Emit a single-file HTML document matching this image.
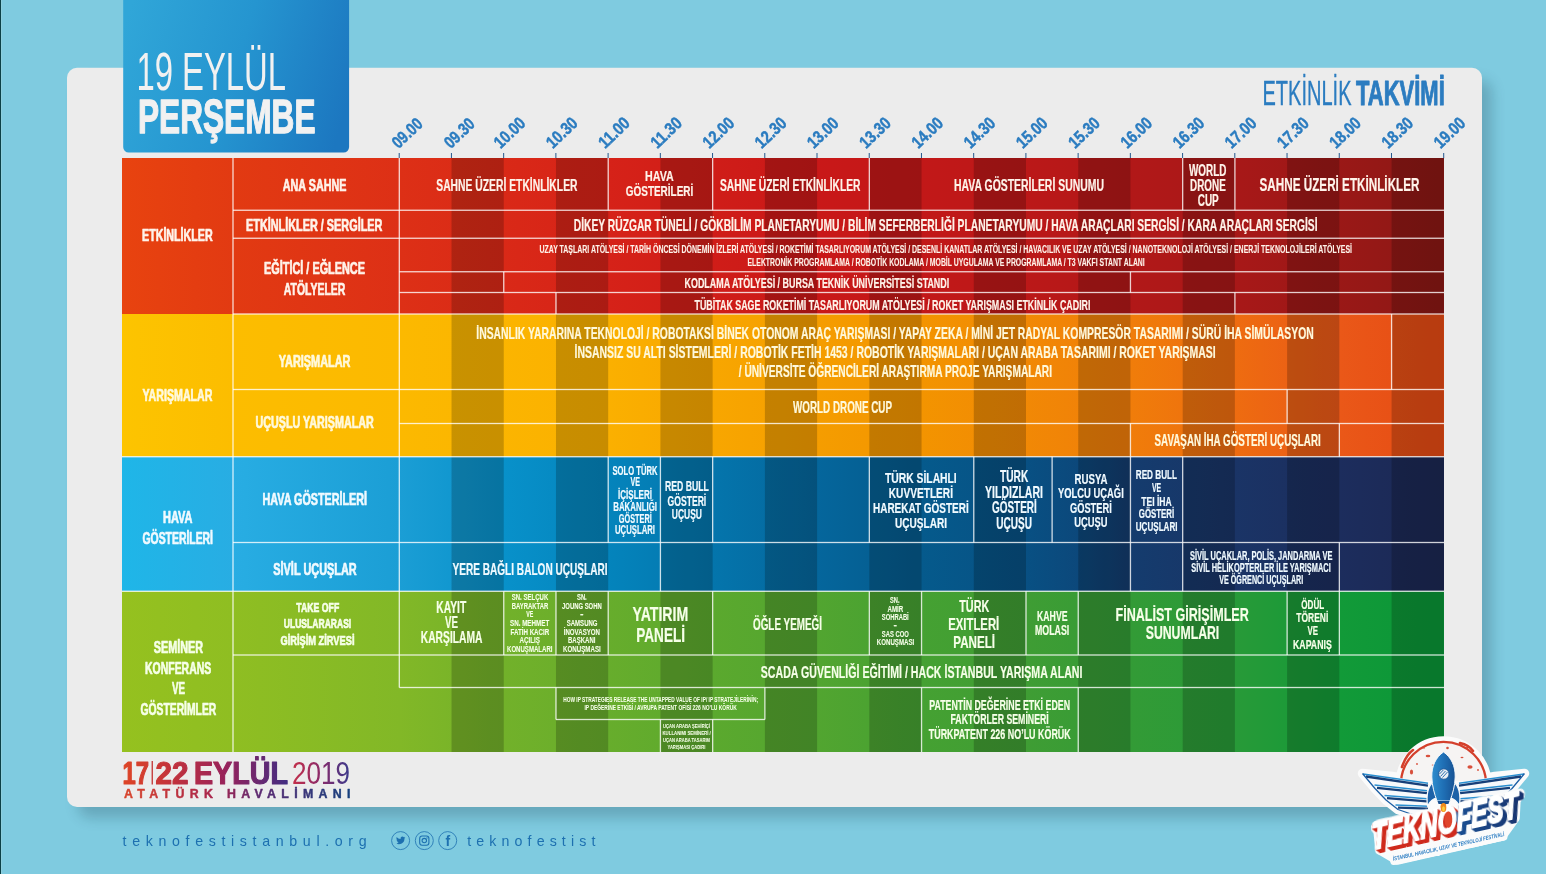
<!DOCTYPE html>
<html lang="tr">
<head>
<meta charset="utf-8">
<title>Etkinlik Takvimi - 19 Eylül Perşembe</title>
<style>
html,body{margin:0;padding:0;background:#7fcbe0;}
body{width:1546px;height:874px;overflow:hidden;}
svg{display:block;font-family:"Liberation Sans",sans-serif;}
text{white-space:pre;}
</style>
</head>
<body>
<svg width="1546" height="874" viewBox="0 0 1546 874">
<defs>
<linearGradient id="gr" gradientUnits="userSpaceOnUse" x1="122" y1="0" x2="1444" y2="0"><stop offset="0.0000" stop-color="#e8430f"/><stop offset="0.0840" stop-color="#e23a12"/><stop offset="0.2099" stop-color="#dd3016"/><stop offset="0.3676" stop-color="#d62218"/><stop offset="0.5257" stop-color="#c91818"/><stop offset="0.6838" stop-color="#bb1818"/><stop offset="0.8419" stop-color="#a81818"/><stop offset="1.0000" stop-color="#8c1815"/></linearGradient>
<linearGradient id="gy" gradientUnits="userSpaceOnUse" x1="122" y1="0" x2="1444" y2="0"><stop offset="0.0000" stop-color="#fdc400"/><stop offset="0.0840" stop-color="#fcbd00"/><stop offset="0.2099" stop-color="#fcb900"/><stop offset="0.3676" stop-color="#fbb000"/><stop offset="0.5257" stop-color="#f59d00"/><stop offset="0.6044" stop-color="#f39400"/><stop offset="0.7625" stop-color="#f07d0a"/><stop offset="0.8419" stop-color="#ee6c10"/><stop offset="0.9206" stop-color="#ea5818"/><stop offset="1.0000" stop-color="#e64a14"/></linearGradient>
<linearGradient id="gb" gradientUnits="userSpaceOnUse" x1="122" y1="0" x2="1444" y2="0"><stop offset="0.0000" stop-color="#1fb6e8"/><stop offset="0.0840" stop-color="#28ade3"/><stop offset="0.2099" stop-color="#1b9ed5"/><stop offset="0.2882" stop-color="#0891ca"/><stop offset="0.3676" stop-color="#0484bc"/><stop offset="0.4470" stop-color="#0475ac"/><stop offset="0.5257" stop-color="#05669c"/><stop offset="0.6044" stop-color="#055a8c"/><stop offset="0.6838" stop-color="#085083"/><stop offset="0.7231" stop-color="#0c487b"/><stop offset="0.7625" stop-color="#143c6e"/><stop offset="0.8419" stop-color="#1a3466"/><stop offset="0.9206" stop-color="#1c2d5d"/><stop offset="1.0000" stop-color="#1c2853"/></linearGradient>
<linearGradient id="gg" gradientUnits="userSpaceOnUse" x1="122" y1="0" x2="1444" y2="0"><stop offset="0.0000" stop-color="#95c11f"/><stop offset="0.0840" stop-color="#8fbe22"/><stop offset="0.2099" stop-color="#82b827"/><stop offset="0.2882" stop-color="#72b12a"/><stop offset="0.3676" stop-color="#67ad2c"/><stop offset="0.4470" stop-color="#5ba92e"/><stop offset="0.5257" stop-color="#52a530"/><stop offset="0.6044" stop-color="#45a132"/><stop offset="0.6838" stop-color="#3f9d34"/><stop offset="0.7625" stop-color="#339b36"/><stop offset="0.8419" stop-color="#289a38"/><stop offset="0.9206" stop-color="#129a38"/><stop offset="1.0000" stop-color="#0a9638"/></linearGradient>
<filter id="sh" x="-5%" y="-8%" width="110%" height="116%"><feGaussianBlur stdDeviation="7"/></filter>
<linearGradient id="gt" gradientUnits="userSpaceOnUse" x1="123" y1="30" x2="349" y2="100"><stop offset="0" stop-color="#30a6d8"/><stop offset="0.5" stop-color="#2595d0"/><stop offset="1" stop-color="#1c77c0"/></linearGradient>
<linearGradient id="gd1" gradientUnits="userSpaceOnUse" x1="123" y1="0" x2="287" y2="0"><stop offset="0" stop-color="#de4526"/><stop offset="0.3" stop-color="#c2323c"/><stop offset="0.62" stop-color="#98225a"/><stop offset="1" stop-color="#432d82"/></linearGradient>
<linearGradient id="gd2" gradientUnits="userSpaceOnUse" x1="292" y1="0" x2="350" y2="0"><stop offset="0" stop-color="#c5304a"/><stop offset="0.5" stop-color="#8a2a6a"/><stop offset="1" stop-color="#3a3a8c"/></linearGradient>
<linearGradient id="gd3" gradientUnits="userSpaceOnUse" x1="124" y1="0" x2="350" y2="0"><stop offset="0" stop-color="#d8452c"/><stop offset="0.4" stop-color="#a8244c"/><stop offset="0.6" stop-color="#5c2a72"/><stop offset="1" stop-color="#16407e"/></linearGradient>
</defs>
<rect x="0" y="0" width="1546" height="874" fill="#7fcbe0" />
<rect x="0" y="0" width="1" height="874" fill="#0b4046" />
<rect x="1" y="0" width="1" height="874" fill="#8fd0de" />
<rect x="78" y="80" width="1414" height="738" rx="12" fill="#0a2a3a" opacity="0.22" filter="url(#sh)"/>
<rect x="67" y="67.8" width="1415" height="739.1" rx="10" fill="#ececec"/>
<path d="M123.2 0H349.1V147a5.5 5.5 0 0 1 -5.5 5.5H128.7a5.5 5.5 0 0 1 -5.5 -5.5Z" fill="url(#gt)"/>
<text x="136.5" y="89.5" font-size="53.78" font-weight="normal" fill="#f1f1f1" textLength="149.5" lengthAdjust="spacingAndGlyphs" >19 EYLÜL</text>
<text x="138" y="133" font-size="47.97" font-weight="bold" fill="#f1f1f1" textLength="177.5" lengthAdjust="spacingAndGlyphs" stroke="#f1f1f1" stroke-width="1.3" stroke-linejoin="round" >PERŞEMBE</text>
<text x="1262.5" y="105" font-size="34.88" font-weight="normal" fill="#2b7cc0" textLength="89" lengthAdjust="spacingAndGlyphs" stroke="#2b7cc0" stroke-width="0.35" stroke-linejoin="round" >ETKİNLİK</text>
<text x="1356" y="105" font-size="34.88" font-weight="bold" fill="#2b7cc0" textLength="88.8" lengthAdjust="spacingAndGlyphs" stroke="#2b7cc0" stroke-width="1" stroke-linejoin="round" >TAKVİMİ</text>
<rect x="398.7" y="153" width="1" height="5.2" fill="#24588e"/>
<text transform="translate(398.5 149.2) rotate(-43.5)" x="0" y="0" font-size="17.15" font-weight="bold" fill="#2b7cc0" stroke="#2b7cc0" stroke-width="0.45" textLength="34.8" lengthAdjust="spacingAndGlyphs">09.00</text>
<rect x="450.925" y="153" width="1" height="5.2" fill="#24588e"/>
<text transform="translate(450.725 149.2) rotate(-43.5)" x="0" y="0" font-size="17.15" font-weight="bold" fill="#2b7cc0" stroke="#2b7cc0" stroke-width="0.45" textLength="34.8" lengthAdjust="spacingAndGlyphs">09.30</text>
<rect x="503.15" y="153" width="1" height="5.2" fill="#24588e"/>
<text transform="translate(500.45 149.2) rotate(-43.5)" x="0" y="0" font-size="17.15" font-weight="bold" fill="#2b7cc0" stroke="#2b7cc0" stroke-width="0.45" textLength="36" lengthAdjust="spacingAndGlyphs">10.00</text>
<rect x="555.375" y="153" width="1" height="5.2" fill="#24588e"/>
<text transform="translate(552.675 149.2) rotate(-43.5)" x="0" y="0" font-size="17.15" font-weight="bold" fill="#2b7cc0" stroke="#2b7cc0" stroke-width="0.45" textLength="36" lengthAdjust="spacingAndGlyphs">10.30</text>
<rect x="607.6" y="153" width="1" height="5.2" fill="#24588e"/>
<text transform="translate(604.9 149.2) rotate(-43.5)" x="0" y="0" font-size="17.15" font-weight="bold" fill="#2b7cc0" stroke="#2b7cc0" stroke-width="0.45" textLength="36" lengthAdjust="spacingAndGlyphs">11.00</text>
<rect x="659.825" y="153" width="1" height="5.2" fill="#24588e"/>
<text transform="translate(657.125 149.2) rotate(-43.5)" x="0" y="0" font-size="17.15" font-weight="bold" fill="#2b7cc0" stroke="#2b7cc0" stroke-width="0.45" textLength="36" lengthAdjust="spacingAndGlyphs">11.30</text>
<rect x="712.05" y="153" width="1" height="5.2" fill="#24588e"/>
<text transform="translate(709.35 149.2) rotate(-43.5)" x="0" y="0" font-size="17.15" font-weight="bold" fill="#2b7cc0" stroke="#2b7cc0" stroke-width="0.45" textLength="36" lengthAdjust="spacingAndGlyphs">12.00</text>
<rect x="764.275" y="153" width="1" height="5.2" fill="#24588e"/>
<text transform="translate(761.575 149.2) rotate(-43.5)" x="0" y="0" font-size="17.15" font-weight="bold" fill="#2b7cc0" stroke="#2b7cc0" stroke-width="0.45" textLength="36" lengthAdjust="spacingAndGlyphs">12.30</text>
<rect x="816.5" y="153" width="1" height="5.2" fill="#24588e"/>
<text transform="translate(813.8 149.2) rotate(-43.5)" x="0" y="0" font-size="17.15" font-weight="bold" fill="#2b7cc0" stroke="#2b7cc0" stroke-width="0.45" textLength="36" lengthAdjust="spacingAndGlyphs">13.00</text>
<rect x="868.725" y="153" width="1" height="5.2" fill="#24588e"/>
<text transform="translate(866.025 149.2) rotate(-43.5)" x="0" y="0" font-size="17.15" font-weight="bold" fill="#2b7cc0" stroke="#2b7cc0" stroke-width="0.45" textLength="36" lengthAdjust="spacingAndGlyphs">13.30</text>
<rect x="920.95" y="153" width="1" height="5.2" fill="#24588e"/>
<text transform="translate(918.25 149.2) rotate(-43.5)" x="0" y="0" font-size="17.15" font-weight="bold" fill="#2b7cc0" stroke="#2b7cc0" stroke-width="0.45" textLength="36" lengthAdjust="spacingAndGlyphs">14.00</text>
<rect x="973.175" y="153" width="1" height="5.2" fill="#24588e"/>
<text transform="translate(970.475 149.2) rotate(-43.5)" x="0" y="0" font-size="17.15" font-weight="bold" fill="#2b7cc0" stroke="#2b7cc0" stroke-width="0.45" textLength="36" lengthAdjust="spacingAndGlyphs">14.30</text>
<rect x="1025.4" y="153" width="1" height="5.2" fill="#24588e"/>
<text transform="translate(1022.7 149.2) rotate(-43.5)" x="0" y="0" font-size="17.15" font-weight="bold" fill="#2b7cc0" stroke="#2b7cc0" stroke-width="0.45" textLength="36" lengthAdjust="spacingAndGlyphs">15.00</text>
<rect x="1077.63" y="153" width="1" height="5.2" fill="#24588e"/>
<text transform="translate(1074.93 149.2) rotate(-43.5)" x="0" y="0" font-size="17.15" font-weight="bold" fill="#2b7cc0" stroke="#2b7cc0" stroke-width="0.45" textLength="36" lengthAdjust="spacingAndGlyphs">15.30</text>
<rect x="1129.85" y="153" width="1" height="5.2" fill="#24588e"/>
<text transform="translate(1127.15 149.2) rotate(-43.5)" x="0" y="0" font-size="17.15" font-weight="bold" fill="#2b7cc0" stroke="#2b7cc0" stroke-width="0.45" textLength="36" lengthAdjust="spacingAndGlyphs">16.00</text>
<rect x="1182.08" y="153" width="1" height="5.2" fill="#24588e"/>
<text transform="translate(1179.38 149.2) rotate(-43.5)" x="0" y="0" font-size="17.15" font-weight="bold" fill="#2b7cc0" stroke="#2b7cc0" stroke-width="0.45" textLength="36" lengthAdjust="spacingAndGlyphs">16.30</text>
<rect x="1234.3" y="153" width="1" height="5.2" fill="#24588e"/>
<text transform="translate(1231.6 149.2) rotate(-43.5)" x="0" y="0" font-size="17.15" font-weight="bold" fill="#2b7cc0" stroke="#2b7cc0" stroke-width="0.45" textLength="36" lengthAdjust="spacingAndGlyphs">17.00</text>
<rect x="1286.53" y="153" width="1" height="5.2" fill="#24588e"/>
<text transform="translate(1283.83 149.2) rotate(-43.5)" x="0" y="0" font-size="17.15" font-weight="bold" fill="#2b7cc0" stroke="#2b7cc0" stroke-width="0.45" textLength="36" lengthAdjust="spacingAndGlyphs">17.30</text>
<rect x="1338.75" y="153" width="1" height="5.2" fill="#24588e"/>
<text transform="translate(1336.05 149.2) rotate(-43.5)" x="0" y="0" font-size="17.15" font-weight="bold" fill="#2b7cc0" stroke="#2b7cc0" stroke-width="0.45" textLength="36" lengthAdjust="spacingAndGlyphs">18.00</text>
<rect x="1390.98" y="153" width="1" height="5.2" fill="#24588e"/>
<text transform="translate(1388.28 149.2) rotate(-43.5)" x="0" y="0" font-size="17.15" font-weight="bold" fill="#2b7cc0" stroke="#2b7cc0" stroke-width="0.45" textLength="36" lengthAdjust="spacingAndGlyphs">18.30</text>
<rect x="1443.2" y="153" width="1" height="5.2" fill="#24588e"/>
<text transform="translate(1440.5 149.2) rotate(-43.5)" x="0" y="0" font-size="17.15" font-weight="bold" fill="#2b7cc0" stroke="#2b7cc0" stroke-width="0.45" textLength="36" lengthAdjust="spacingAndGlyphs">19.00</text>
<rect x="122" y="158" width="1322" height="156" fill="url(#gr)" />
<rect x="122" y="314" width="1322" height="142.75" fill="url(#gy)" />
<rect x="122" y="456.75" width="1322" height="134.5" fill="url(#gb)" />
<rect x="122" y="591.25" width="1322" height="160.75" fill="url(#gg)" />
<rect x="451.525" y="158" width="52.225" height="594" fill="#000" opacity="0.2"/>
<rect x="555.975" y="158" width="52.225" height="594" fill="#000" opacity="0.2"/>
<rect x="660.425" y="158" width="52.225" height="594" fill="#000" opacity="0.2"/>
<rect x="764.875" y="158" width="52.225" height="594" fill="#000" opacity="0.2"/>
<rect x="869.325" y="158" width="52.225" height="594" fill="#000" opacity="0.2"/>
<rect x="973.775" y="158" width="52.225" height="594" fill="#000" opacity="0.2"/>
<rect x="1078.23" y="158" width="52.225" height="594" fill="#000" opacity="0.2"/>
<rect x="1182.67" y="158" width="52.225" height="594" fill="#000" opacity="0.2"/>
<rect x="1287.12" y="158" width="52.225" height="594" fill="#000" opacity="0.2"/>
<rect x="1391.58" y="158" width="52.225" height="594" fill="#000" opacity="0.2"/>
<rect x="233" y="209.6" width="1211" height="1.3" fill="rgba(255,255,255,0.8)"/>
<rect x="233" y="237.6" width="1211" height="1.3" fill="rgba(255,255,255,0.8)"/>
<rect x="399.3" y="271.1" width="1044.7" height="1.3" fill="rgba(255,255,255,0.8)"/>
<rect x="399.3" y="291.85" width="1044.7" height="1.3" fill="rgba(255,255,255,0.8)"/>
<rect x="233" y="313.35" width="1211" height="1.3" fill="rgba(255,255,255,0.8)"/>
<rect x="233" y="388.85" width="1211" height="1.3" fill="rgba(255,255,255,0.8)"/>
<rect x="399.3" y="422.85" width="1044.7" height="1.3" fill="rgba(255,255,255,0.8)"/>
<rect x="122" y="456.1" width="1322" height="1.3" fill="rgba(255,255,255,0.8)"/>
<rect x="233" y="541.85" width="1211" height="1.3" fill="rgba(255,255,255,0.8)"/>
<rect x="122" y="590.6" width="1322" height="1.3" fill="rgba(255,255,255,0.8)"/>
<rect x="233" y="654.35" width="1211" height="1.3" fill="rgba(255,255,255,0.8)"/>
<rect x="399.3" y="686.85" width="1044.7" height="1.3" fill="rgba(255,255,255,0.8)"/>
<rect x="555.975" y="718.85" width="208.9" height="1.3" fill="rgba(255,255,255,0.8)"/>
<rect x="232.35" y="158" width="1.3" height="594" fill="rgba(255,255,255,0.8)"/>
<rect x="398.65" y="158" width="1.3" height="529.5" fill="rgba(255,255,255,0.8)"/>
<rect x="607.55" y="158" width="1.3" height="52.25" fill="rgba(255,255,255,0.8)"/>
<rect x="712" y="158" width="1.3" height="52.25" fill="rgba(255,255,255,0.8)"/>
<rect x="868.675" y="158" width="1.3" height="52.25" fill="rgba(255,255,255,0.8)"/>
<rect x="1182.02" y="158" width="1.3" height="52.25" fill="rgba(255,255,255,0.8)"/>
<rect x="1234.25" y="158" width="1.3" height="52.25" fill="rgba(255,255,255,0.8)"/>
<rect x="503.1" y="271.75" width="1.3" height="20.75" fill="rgba(255,255,255,0.8)"/>
<rect x="1129.8" y="271.75" width="1.3" height="20.75" fill="rgba(255,255,255,0.8)"/>
<rect x="555.325" y="292.5" width="1.3" height="21.5" fill="rgba(255,255,255,0.8)"/>
<rect x="1234.25" y="292.5" width="1.3" height="21.5" fill="rgba(255,255,255,0.8)"/>
<rect x="1390.92" y="314" width="1.3" height="75.5" fill="rgba(255,255,255,0.8)"/>
<rect x="1286.47" y="389.5" width="1.3" height="34" fill="rgba(255,255,255,0.8)"/>
<rect x="1129.8" y="423.5" width="1.3" height="33.25" fill="rgba(255,255,255,0.8)"/>
<rect x="1338.7" y="423.5" width="1.3" height="33.25" fill="rgba(255,255,255,0.8)"/>
<rect x="607.55" y="456.75" width="1.3" height="85.75" fill="rgba(255,255,255,0.8)"/>
<rect x="659.775" y="456.75" width="1.3" height="85.75" fill="rgba(255,255,255,0.8)"/>
<rect x="712" y="456.75" width="1.3" height="85.75" fill="rgba(255,255,255,0.8)"/>
<rect x="868.675" y="456.75" width="1.3" height="85.75" fill="rgba(255,255,255,0.8)"/>
<rect x="973.125" y="456.75" width="1.3" height="85.75" fill="rgba(255,255,255,0.8)"/>
<rect x="1051.46" y="456.75" width="1.3" height="85.75" fill="rgba(255,255,255,0.8)"/>
<rect x="1129.8" y="456.75" width="1.3" height="85.75" fill="rgba(255,255,255,0.8)"/>
<rect x="1182.02" y="456.75" width="1.3" height="85.75" fill="rgba(255,255,255,0.8)"/>
<rect x="659.775" y="542.5" width="1.3" height="48.75" fill="rgba(255,255,255,0.8)"/>
<rect x="1129.8" y="542.5" width="1.3" height="48.75" fill="rgba(255,255,255,0.8)"/>
<rect x="1182.02" y="542.5" width="1.3" height="48.75" fill="rgba(255,255,255,0.8)"/>
<rect x="1338.7" y="542.5" width="1.3" height="48.75" fill="rgba(255,255,255,0.8)"/>
<rect x="503.1" y="591.25" width="1.3" height="63.75" fill="rgba(255,255,255,0.8)"/>
<rect x="555.325" y="591.25" width="1.3" height="63.75" fill="rgba(255,255,255,0.8)"/>
<rect x="607.55" y="591.25" width="1.3" height="63.75" fill="rgba(255,255,255,0.8)"/>
<rect x="712" y="591.25" width="1.3" height="63.75" fill="rgba(255,255,255,0.8)"/>
<rect x="868.675" y="591.25" width="1.3" height="63.75" fill="rgba(255,255,255,0.8)"/>
<rect x="920.9" y="591.25" width="1.3" height="63.75" fill="rgba(255,255,255,0.8)"/>
<rect x="1025.35" y="591.25" width="1.3" height="63.75" fill="rgba(255,255,255,0.8)"/>
<rect x="1077.58" y="591.25" width="1.3" height="63.75" fill="rgba(255,255,255,0.8)"/>
<rect x="1286.47" y="591.25" width="1.3" height="63.75" fill="rgba(255,255,255,0.8)"/>
<rect x="1338.7" y="591.25" width="1.3" height="63.75" fill="rgba(255,255,255,0.8)"/>
<rect x="555.325" y="687.5" width="1.3" height="32" fill="rgba(255,255,255,0.8)"/>
<rect x="764.225" y="687.5" width="1.3" height="32" fill="rgba(255,255,255,0.8)"/>
<rect x="659.775" y="719.5" width="1.3" height="32.5" fill="rgba(255,255,255,0.8)"/>
<rect x="712" y="719.5" width="1.3" height="32.5" fill="rgba(255,255,255,0.8)"/>
<rect x="920.9" y="687.5" width="1.3" height="64.5" fill="rgba(255,255,255,0.8)"/>
<rect x="1077.58" y="687.5" width="1.3" height="64.5" fill="rgba(255,255,255,0.8)"/>
<text x="142" y="240.7" font-size="15.99" font-weight="bold" fill="#fff3ea" textLength="70.7" lengthAdjust="spacingAndGlyphs" stroke="#fff3ea" stroke-width="0.7" stroke-linejoin="round" >ETKİNLİKLER</text>
<text x="142.5" y="401.25" font-size="15.63" font-weight="bold" fill="#fff9dc" textLength="70" lengthAdjust="spacingAndGlyphs" stroke="#fff9dc" stroke-width="0.7" stroke-linejoin="round" >YARIŞMALAR</text>
<text x="163" y="523.25" font-size="15.63" font-weight="bold" fill="#f0faff" textLength="29.5" lengthAdjust="spacingAndGlyphs" stroke="#f0faff" stroke-width="0.7" stroke-linejoin="round" >HAVA</text>
<text x="142.5" y="543.75" font-size="15.63" font-weight="bold" fill="#f0faff" textLength="70.5" lengthAdjust="spacingAndGlyphs" stroke="#f0faff" stroke-width="0.7" stroke-linejoin="round" >GÖSTERİLERİ</text>
<text x="153.75" y="653" font-size="15.63" font-weight="bold" fill="#f6ffe8" textLength="49.25" lengthAdjust="spacingAndGlyphs" stroke="#f6ffe8" stroke-width="0.7" stroke-linejoin="round" >SEMİNER</text>
<text x="145" y="673.75" font-size="15.63" font-weight="bold" fill="#f6ffe8" textLength="66.25" lengthAdjust="spacingAndGlyphs" stroke="#f6ffe8" stroke-width="0.7" stroke-linejoin="round" >KONFERANS</text>
<text x="172" y="694.25" font-size="15.63" font-weight="bold" fill="#f6ffe8" textLength="13" lengthAdjust="spacingAndGlyphs" stroke="#f6ffe8" stroke-width="0.7" stroke-linejoin="round" >VE</text>
<text x="140.5" y="715" font-size="15.63" font-weight="bold" fill="#f6ffe8" textLength="75.75" lengthAdjust="spacingAndGlyphs" stroke="#f6ffe8" stroke-width="0.7" stroke-linejoin="round" >GÖSTERİMLER</text>
<text x="282.8" y="191.1" font-size="15.99" font-weight="bold" fill="#fff3ea" textLength="63.6" lengthAdjust="spacingAndGlyphs" stroke="#fff3ea" stroke-width="0.7" stroke-linejoin="round" >ANA SAHNE</text>
<text x="246" y="231" font-size="15.99" font-weight="bold" fill="#fff3ea" textLength="136.4" lengthAdjust="spacingAndGlyphs" stroke="#fff3ea" stroke-width="0.7" stroke-linejoin="round" >ETKİNLİKLER / SERGİLER</text>
<text x="264" y="273.8" font-size="15.99" font-weight="bold" fill="#fff3ea" textLength="101" lengthAdjust="spacingAndGlyphs" stroke="#fff3ea" stroke-width="0.7" stroke-linejoin="round" >EĞİTİCİ / EĞLENCE</text>
<text x="283.7" y="295.2" font-size="15.99" font-weight="bold" fill="#fff3ea" textLength="61.7" lengthAdjust="spacingAndGlyphs" stroke="#fff3ea" stroke-width="0.7" stroke-linejoin="round" >ATÖLYELER</text>
<text x="278.75" y="367" font-size="15.63" font-weight="bold" fill="#fff9dc" textLength="71.75" lengthAdjust="spacingAndGlyphs" stroke="#fff9dc" stroke-width="0.7" stroke-linejoin="round" >YARIŞMALAR</text>
<text x="255.5" y="428.25" font-size="15.63" font-weight="bold" fill="#fff9dc" textLength="118.25" lengthAdjust="spacingAndGlyphs" stroke="#fff9dc" stroke-width="0.7" stroke-linejoin="round" >UÇUŞLU YARIŞMALAR</text>
<text x="262.5" y="505" font-size="15.99" font-weight="bold" fill="#f0faff" textLength="104.5" lengthAdjust="spacingAndGlyphs" stroke="#f0faff" stroke-width="0.7" stroke-linejoin="round" >HAVA GÖSTERİLERİ</text>
<text x="273.25" y="575" font-size="15.63" font-weight="bold" fill="#f0faff" textLength="83.5" lengthAdjust="spacingAndGlyphs" stroke="#f0faff" stroke-width="0.7" stroke-linejoin="round" >SİVİL UÇUŞLAR</text>
<text x="296.25" y="612" font-size="13.08" font-weight="bold" fill="#f6ffe8" textLength="43" lengthAdjust="spacingAndGlyphs" stroke="#f6ffe8" stroke-width="0.7" stroke-linejoin="round" >TAKE OFF</text>
<text x="283.75" y="628.25" font-size="13.08" font-weight="bold" fill="#f6ffe8" textLength="67.5" lengthAdjust="spacingAndGlyphs" stroke="#f6ffe8" stroke-width="0.7" stroke-linejoin="round" >ULUSLARARASI</text>
<text x="280.5" y="645" font-size="13.08" font-weight="bold" fill="#f6ffe8" textLength="74" lengthAdjust="spacingAndGlyphs" stroke="#f6ffe8" stroke-width="0.7" stroke-linejoin="round" >GİRİŞİM ZİRVESİ</text>
<text x="436.25" y="191.25" font-size="16.35" font-weight="bold" fill="#fff3ea" textLength="141.25" lengthAdjust="spacingAndGlyphs" stroke="#fff3ea" stroke-width="0.22" stroke-linejoin="round" >SAHNE ÜZERİ ETKİNLİKLER</text>
<text x="645" y="181.25" font-size="15.26" font-weight="bold" fill="#fff3ea" textLength="28.75" lengthAdjust="spacingAndGlyphs" stroke="#fff3ea" stroke-width="0.22" stroke-linejoin="round" >HAVA</text>
<text x="625.75" y="196.25" font-size="15.26" font-weight="bold" fill="#fff3ea" textLength="67.5" lengthAdjust="spacingAndGlyphs" stroke="#fff3ea" stroke-width="0.22" stroke-linejoin="round" >GÖSTERİLERİ</text>
<text x="720" y="191.25" font-size="16.35" font-weight="bold" fill="#fff3ea" textLength="140.5" lengthAdjust="spacingAndGlyphs" stroke="#fff3ea" stroke-width="0.22" stroke-linejoin="round" >SAHNE ÜZERİ ETKİNLİKLER</text>
<text x="954" y="191.25" font-size="16.35" font-weight="bold" fill="#fff3ea" textLength="150" lengthAdjust="spacingAndGlyphs" stroke="#fff3ea" stroke-width="0.22" stroke-linejoin="round" >HAVA GÖSTERİLERİ SUNUMU</text>
<text x="1189" y="176.25" font-size="16.35" font-weight="bold" fill="#fff3ea" textLength="37.5" lengthAdjust="spacingAndGlyphs" stroke="#fff3ea" stroke-width="0.22" stroke-linejoin="round" >WORLD</text>
<text x="1190" y="191.25" font-size="16.35" font-weight="bold" fill="#fff3ea" textLength="35.75" lengthAdjust="spacingAndGlyphs" stroke="#fff3ea" stroke-width="0.22" stroke-linejoin="round" >DRONE</text>
<text x="1197.75" y="206.25" font-size="16.35" font-weight="bold" fill="#fff3ea" textLength="21" lengthAdjust="spacingAndGlyphs" stroke="#fff3ea" stroke-width="0.22" stroke-linejoin="round" >CUP</text>
<text x="1259.5" y="191.25" font-size="17.44" font-weight="bold" fill="#fff3ea" textLength="160" lengthAdjust="spacingAndGlyphs" stroke="#fff3ea" stroke-width="0.22" stroke-linejoin="round" >SAHNE ÜZERİ ETKİNLİKLER</text>
<text x="573.75" y="231.25" font-size="15.63" font-weight="bold" fill="#fff3ea" textLength="743.75" lengthAdjust="spacingAndGlyphs" stroke="#fff3ea" stroke-width="0.22" stroke-linejoin="round" >DİKEY RÜZGAR TÜNELİ / GÖKBİLİM PLANETARYUMU / BİLİM SEFERBERLİĞİ PLANETARYUMU / HAVA ARAÇLARI SERGİSİ / KARA ARAÇLARI SERGİSİ</text>
<text x="539.5" y="253.25" font-size="10.90" font-weight="bold" fill="#fff3ea" textLength="812.5" lengthAdjust="spacingAndGlyphs" stroke="#fff3ea" stroke-width="0.12" stroke-linejoin="round" >UZAY TAŞLARI ATÖLYESİ / TARİH ÖNCESİ DÖNEMİN İZLERİ ATÖLYESİ / ROKETİMİ TASARLIYORUM ATÖLYESİ / DESENLİ KANATLAR ATÖLYESİ / HAVACILIK VE UZAY ATÖLYESİ / NANOTEKNOLOJİ ATÖLYESİ / ENERJİ TEKNOLOJİLERİ ATÖLYESİ</text>
<text x="747.5" y="265.5" font-size="10.90" font-weight="bold" fill="#fff3ea" textLength="397.25" lengthAdjust="spacingAndGlyphs" stroke="#fff3ea" stroke-width="0.12" stroke-linejoin="round" >ELEKTRONİK PROGRAMLAMA / ROBOTİK KODLAMA / MOBİL UYGULAMA VE PROGRAMLAMA / T3 VAKFI STANT ALANI</text>
<text x="684.5" y="287.5" font-size="13.81" font-weight="bold" fill="#fff3ea" textLength="264.75" lengthAdjust="spacingAndGlyphs" stroke="#fff3ea" stroke-width="0.22" stroke-linejoin="round" >KODLAMA ATÖLYESİ / BURSA TEKNİK ÜNİVERSİTESİ STANDI</text>
<text x="694.5" y="309.5" font-size="13.81" font-weight="bold" fill="#fff3ea" textLength="396" lengthAdjust="spacingAndGlyphs" stroke="#fff3ea" stroke-width="0.22" stroke-linejoin="round" >TÜBİTAK SAGE ROKETİMİ TASARLIYORUM ATÖLYESİ / ROKET YARIŞMASI ETKİNLİK ÇADIRI</text>
<text x="476.25" y="338.75" font-size="15.63" font-weight="bold" fill="#fff9dc" textLength="837.5" lengthAdjust="spacingAndGlyphs" stroke="#fff9dc" stroke-width="0.22" stroke-linejoin="round" >İNSANLIK YARARINA TEKNOLOJİ / ROBOTAKSİ BİNEK OTONOM ARAÇ YARIŞMASI / YAPAY ZEKA / MİNİ JET RADYAL KOMPRESÖR TASARIMI / SÜRÜ İHA SİMÜLASYON</text>
<text x="574.5" y="358" font-size="15.63" font-weight="bold" fill="#fff9dc" textLength="641.25" lengthAdjust="spacingAndGlyphs" stroke="#fff9dc" stroke-width="0.22" stroke-linejoin="round" >İNSANSIZ SU ALTI SİSTEMLERİ / ROBOTİK FETİH 1453 / ROBOTİK YARIŞMALARI / UÇAN ARABA TASARIMI / ROKET YARIŞMASI</text>
<text x="738.75" y="377" font-size="15.63" font-weight="bold" fill="#fff9dc" textLength="313.25" lengthAdjust="spacingAndGlyphs" stroke="#fff9dc" stroke-width="0.22" stroke-linejoin="round" >/ ÜNİVERSİTE ÖĞRENCİLERİ ARAŞTIRMA PROJE YARIŞMALARI</text>
<text x="793" y="413" font-size="15.63" font-weight="bold" fill="#fff9dc" textLength="99" lengthAdjust="spacingAndGlyphs" stroke="#fff9dc" stroke-width="0.22" stroke-linejoin="round" >WORLD DRONE CUP</text>
<text x="1154.5" y="445.75" font-size="15.63" font-weight="bold" fill="#fff9dc" textLength="166.25" lengthAdjust="spacingAndGlyphs" stroke="#fff9dc" stroke-width="0.22" stroke-linejoin="round" >SAVAŞAN İHA GÖSTERİ UÇUŞLARI</text>
<text x="612.5" y="475" font-size="12.72" font-weight="bold" fill="#f0faff" textLength="45" lengthAdjust="spacingAndGlyphs" stroke="#f0faff" stroke-width="0.22" stroke-linejoin="round" >SOLO TÜRK</text>
<text x="630.5" y="486.25" font-size="12.72" font-weight="bold" fill="#f0faff" textLength="9.5" lengthAdjust="spacingAndGlyphs" stroke="#f0faff" stroke-width="0.22" stroke-linejoin="round" >VE</text>
<text x="618" y="498.75" font-size="12.72" font-weight="bold" fill="#f0faff" textLength="34" lengthAdjust="spacingAndGlyphs" stroke="#f0faff" stroke-width="0.22" stroke-linejoin="round" >İÇİŞLERİ</text>
<text x="613.25" y="510.5" font-size="12.72" font-weight="bold" fill="#f0faff" textLength="43.75" lengthAdjust="spacingAndGlyphs" stroke="#f0faff" stroke-width="0.22" stroke-linejoin="round" >BAKANLIĞI</text>
<text x="618.75" y="522.5" font-size="12.72" font-weight="bold" fill="#f0faff" textLength="33" lengthAdjust="spacingAndGlyphs" stroke="#f0faff" stroke-width="0.22" stroke-linejoin="round" >GÖSTERİ</text>
<text x="615" y="534.25" font-size="12.72" font-weight="bold" fill="#f0faff" textLength="40" lengthAdjust="spacingAndGlyphs" stroke="#f0faff" stroke-width="0.22" stroke-linejoin="round" >UÇUŞLARI</text>
<text x="665" y="491.25" font-size="14.17" font-weight="bold" fill="#f0faff" textLength="43.75" lengthAdjust="spacingAndGlyphs" stroke="#f0faff" stroke-width="0.22" stroke-linejoin="round" >RED BULL</text>
<text x="667.5" y="505.5" font-size="14.17" font-weight="bold" fill="#f0faff" textLength="38.75" lengthAdjust="spacingAndGlyphs" stroke="#f0faff" stroke-width="0.22" stroke-linejoin="round" >GÖSTERİ</text>
<text x="671.75" y="518.75" font-size="14.17" font-weight="bold" fill="#f0faff" textLength="30.25" lengthAdjust="spacingAndGlyphs" stroke="#f0faff" stroke-width="0.22" stroke-linejoin="round" >UÇUŞU</text>
<text x="452.5" y="575" font-size="15.63" font-weight="bold" fill="#f0faff" textLength="155" lengthAdjust="spacingAndGlyphs" stroke="#f0faff" stroke-width="0.22" stroke-linejoin="round" >YERE BAĞLI BALON UÇUŞLARI</text>
<text x="885" y="483" font-size="15.26" font-weight="bold" fill="#f0faff" textLength="71.75" lengthAdjust="spacingAndGlyphs" stroke="#f0faff" stroke-width="0.22" stroke-linejoin="round" >TÜRK SİLAHLI</text>
<text x="888.75" y="498" font-size="15.26" font-weight="bold" fill="#f0faff" textLength="64.25" lengthAdjust="spacingAndGlyphs" stroke="#f0faff" stroke-width="0.22" stroke-linejoin="round" >KUVVETLERİ</text>
<text x="873" y="513.25" font-size="15.26" font-weight="bold" fill="#f0faff" textLength="95.75" lengthAdjust="spacingAndGlyphs" stroke="#f0faff" stroke-width="0.22" stroke-linejoin="round" >HAREKAT GÖSTERİ</text>
<text x="895" y="528" font-size="15.26" font-weight="bold" fill="#f0faff" textLength="52" lengthAdjust="spacingAndGlyphs" stroke="#f0faff" stroke-width="0.22" stroke-linejoin="round" >UÇUŞLARI</text>
<text x="1000" y="482" font-size="15.63" font-weight="bold" fill="#f0faff" textLength="28.25" lengthAdjust="spacingAndGlyphs" stroke="#f0faff" stroke-width="0.22" stroke-linejoin="round" >TÜRK</text>
<text x="985" y="498" font-size="15.63" font-weight="bold" fill="#f0faff" textLength="58" lengthAdjust="spacingAndGlyphs" stroke="#f0faff" stroke-width="0.22" stroke-linejoin="round" >YILDIZLARI</text>
<text x="992" y="513.25" font-size="15.63" font-weight="bold" fill="#f0faff" textLength="44.75" lengthAdjust="spacingAndGlyphs" stroke="#f0faff" stroke-width="0.22" stroke-linejoin="round" >GÖSTERİ</text>
<text x="996.25" y="528.75" font-size="15.63" font-weight="bold" fill="#f0faff" textLength="35.75" lengthAdjust="spacingAndGlyphs" stroke="#f0faff" stroke-width="0.22" stroke-linejoin="round" >UÇUŞU</text>
<text x="1074.5" y="484.25" font-size="15.26" font-weight="bold" fill="#f0faff" textLength="33" lengthAdjust="spacingAndGlyphs" stroke="#f0faff" stroke-width="0.22" stroke-linejoin="round" >RUSYA</text>
<text x="1058" y="498" font-size="15.26" font-weight="bold" fill="#f0faff" textLength="65.75" lengthAdjust="spacingAndGlyphs" stroke="#f0faff" stroke-width="0.22" stroke-linejoin="round" >YOLCU UÇAĞI</text>
<text x="1070" y="512.5" font-size="15.26" font-weight="bold" fill="#f0faff" textLength="41.75" lengthAdjust="spacingAndGlyphs" stroke="#f0faff" stroke-width="0.22" stroke-linejoin="round" >GÖSTERİ</text>
<text x="1074.25" y="527" font-size="15.26" font-weight="bold" fill="#f0faff" textLength="33.25" lengthAdjust="spacingAndGlyphs" stroke="#f0faff" stroke-width="0.22" stroke-linejoin="round" >UÇUŞU</text>
<text x="1135.75" y="479.25" font-size="12.72" font-weight="bold" fill="#f0faff" textLength="41.25" lengthAdjust="spacingAndGlyphs" stroke="#f0faff" stroke-width="0.22" stroke-linejoin="round" >RED BULL</text>
<text x="1152" y="492" font-size="12.72" font-weight="bold" fill="#f0faff" textLength="9.25" lengthAdjust="spacingAndGlyphs" stroke="#f0faff" stroke-width="0.22" stroke-linejoin="round" >VE</text>
<text x="1141.25" y="505.5" font-size="12.72" font-weight="bold" fill="#f0faff" textLength="30.5" lengthAdjust="spacingAndGlyphs" stroke="#f0faff" stroke-width="0.22" stroke-linejoin="round" >TEI İHA</text>
<text x="1138.75" y="517.5" font-size="12.72" font-weight="bold" fill="#f0faff" textLength="35.5" lengthAdjust="spacingAndGlyphs" stroke="#f0faff" stroke-width="0.22" stroke-linejoin="round" >GÖSTERİ</text>
<text x="1135.75" y="530.5" font-size="12.72" font-weight="bold" fill="#f0faff" textLength="41.75" lengthAdjust="spacingAndGlyphs" stroke="#f0faff" stroke-width="0.22" stroke-linejoin="round" >UÇUŞLARI</text>
<text x="1190" y="559.5" font-size="11.99" font-weight="bold" fill="#f0faff" textLength="142.5" lengthAdjust="spacingAndGlyphs" stroke="#f0faff" stroke-width="0.22" stroke-linejoin="round" >SİVİL UÇAKLAR, POLİS, JANDARMA VE</text>
<text x="1191.25" y="571.75" font-size="11.99" font-weight="bold" fill="#f0faff" textLength="139.5" lengthAdjust="spacingAndGlyphs" stroke="#f0faff" stroke-width="0.22" stroke-linejoin="round" >SİVİL HELİKOPTERLER İLE YARIŞMACI</text>
<text x="1219.25" y="583.75" font-size="11.99" font-weight="bold" fill="#f0faff" textLength="84" lengthAdjust="spacingAndGlyphs" stroke="#f0faff" stroke-width="0.22" stroke-linejoin="round" >VE ÖĞRENCİ UÇUŞLARI</text>
<text x="436.25" y="613.25" font-size="15.63" font-weight="bold" fill="#f6ffe8" textLength="30" lengthAdjust="spacingAndGlyphs" stroke="#f6ffe8" stroke-width="0.22" stroke-linejoin="round" >KAYIT</text>
<text x="445" y="628.25" font-size="15.63" font-weight="bold" fill="#f6ffe8" textLength="13" lengthAdjust="spacingAndGlyphs" stroke="#f6ffe8" stroke-width="0.22" stroke-linejoin="round" >VE</text>
<text x="420.75" y="643.25" font-size="15.63" font-weight="bold" fill="#f6ffe8" textLength="61.75" lengthAdjust="spacingAndGlyphs" stroke="#f6ffe8" stroke-width="0.22" stroke-linejoin="round" >KARŞILAMA</text>
<text x="511.75" y="600.25" font-size="9.45" font-weight="bold" fill="#f6ffe8" textLength="36.5" lengthAdjust="spacingAndGlyphs" stroke="#f6ffe8" stroke-width="0.12" stroke-linejoin="round" >SN. SELÇUK</text>
<text x="511.75" y="608.5" font-size="9.45" font-weight="bold" fill="#f6ffe8" textLength="36.5" lengthAdjust="spacingAndGlyphs" stroke="#f6ffe8" stroke-width="0.12" stroke-linejoin="round" >BAYRAKTAR</text>
<text x="526.25" y="617" font-size="9.45" font-weight="bold" fill="#f6ffe8" textLength="7" lengthAdjust="spacingAndGlyphs" stroke="#f6ffe8" stroke-width="0.12" stroke-linejoin="round" >VE</text>
<text x="510" y="625.75" font-size="9.45" font-weight="bold" fill="#f6ffe8" textLength="39.25" lengthAdjust="spacingAndGlyphs" stroke="#f6ffe8" stroke-width="0.12" stroke-linejoin="round" >SN. MEHMET</text>
<text x="510.5" y="634.5" font-size="9.45" font-weight="bold" fill="#f6ffe8" textLength="38.75" lengthAdjust="spacingAndGlyphs" stroke="#f6ffe8" stroke-width="0.12" stroke-linejoin="round" >FATİH KACIR</text>
<text x="519.5" y="642.75" font-size="9.45" font-weight="bold" fill="#f6ffe8" textLength="20.5" lengthAdjust="spacingAndGlyphs" stroke="#f6ffe8" stroke-width="0.12" stroke-linejoin="round" >AÇILIŞ</text>
<text x="507" y="651.5" font-size="9.45" font-weight="bold" fill="#f6ffe8" textLength="45.5" lengthAdjust="spacingAndGlyphs" stroke="#f6ffe8" stroke-width="0.12" stroke-linejoin="round" >KONUŞMALARI</text>
<text x="577" y="600.25" font-size="9.45" font-weight="bold" fill="#f6ffe8" textLength="9.75" lengthAdjust="spacingAndGlyphs" stroke="#f6ffe8" stroke-width="0.12" stroke-linejoin="round" >SN.</text>
<text x="562" y="608.5" font-size="9.45" font-weight="bold" fill="#f6ffe8" textLength="39.75" lengthAdjust="spacingAndGlyphs" stroke="#f6ffe8" stroke-width="0.12" stroke-linejoin="round" >JOUNG SOHN</text>
<text x="580" y="617" font-size="9.45" font-weight="bold" fill="#f6ffe8" textLength="3.5" lengthAdjust="spacingAndGlyphs" stroke="#f6ffe8" stroke-width="0.12" stroke-linejoin="round" >-</text>
<text x="566.75" y="625.75" font-size="9.45" font-weight="bold" fill="#f6ffe8" textLength="30.75" lengthAdjust="spacingAndGlyphs" stroke="#f6ffe8" stroke-width="0.12" stroke-linejoin="round" >SAMSUNG</text>
<text x="563.75" y="634.5" font-size="9.45" font-weight="bold" fill="#f6ffe8" textLength="36.25" lengthAdjust="spacingAndGlyphs" stroke="#f6ffe8" stroke-width="0.12" stroke-linejoin="round" >İNOVASYON</text>
<text x="568" y="642.75" font-size="9.45" font-weight="bold" fill="#f6ffe8" textLength="27.5" lengthAdjust="spacingAndGlyphs" stroke="#f6ffe8" stroke-width="0.12" stroke-linejoin="round" >BAŞKANI</text>
<text x="563" y="651.5" font-size="9.45" font-weight="bold" fill="#f6ffe8" textLength="37.75" lengthAdjust="spacingAndGlyphs" stroke="#f6ffe8" stroke-width="0.12" stroke-linejoin="round" >KONUŞMASI</text>
<text x="632.5" y="621.15" font-size="19.62" font-weight="bold" fill="#f6ffe8" textLength="55.75" lengthAdjust="spacingAndGlyphs" stroke="#f6ffe8" stroke-width="0.22" stroke-linejoin="round" >YATIRIM</text>
<text x="636.25" y="641.9" font-size="19.62" font-weight="bold" fill="#f6ffe8" textLength="48.75" lengthAdjust="spacingAndGlyphs" stroke="#f6ffe8" stroke-width="0.22" stroke-linejoin="round" >PANELİ</text>
<text x="753" y="630" font-size="16.72" font-weight="bold" fill="#f6ffe8" textLength="69" lengthAdjust="spacingAndGlyphs" stroke="#f6ffe8" stroke-width="0.22" stroke-linejoin="round" >ÖĞLE YEMEĞİ</text>
<text x="890" y="602.75" font-size="9.45" font-weight="bold" fill="#f6ffe8" textLength="9.5" lengthAdjust="spacingAndGlyphs" stroke="#f6ffe8" stroke-width="0.12" stroke-linejoin="round" >SN.</text>
<text x="887.5" y="611.5" font-size="9.45" font-weight="bold" fill="#f6ffe8" textLength="15.75" lengthAdjust="spacingAndGlyphs" stroke="#f6ffe8" stroke-width="0.12" stroke-linejoin="round" >AMİR</text>
<text x="881.75" y="619.5" font-size="9.45" font-weight="bold" fill="#f6ffe8" textLength="27" lengthAdjust="spacingAndGlyphs" stroke="#f6ffe8" stroke-width="0.12" stroke-linejoin="round" >SOHRABİ</text>
<text x="893.5" y="628" font-size="9.45" font-weight="bold" fill="#f6ffe8" textLength="3.5" lengthAdjust="spacingAndGlyphs" stroke="#f6ffe8" stroke-width="0.12" stroke-linejoin="round" >-</text>
<text x="881.75" y="636.5" font-size="9.45" font-weight="bold" fill="#f6ffe8" textLength="27" lengthAdjust="spacingAndGlyphs" stroke="#f6ffe8" stroke-width="0.12" stroke-linejoin="round" >SAS COO</text>
<text x="876.75" y="645.25" font-size="9.45" font-weight="bold" fill="#f6ffe8" textLength="37.5" lengthAdjust="spacingAndGlyphs" stroke="#f6ffe8" stroke-width="0.12" stroke-linejoin="round" >KONUŞMASI</text>
<text x="959.25" y="612" font-size="17.08" font-weight="bold" fill="#f6ffe8" textLength="30" lengthAdjust="spacingAndGlyphs" stroke="#f6ffe8" stroke-width="0.22" stroke-linejoin="round" >TÜRK</text>
<text x="948.25" y="630" font-size="17.08" font-weight="bold" fill="#f6ffe8" textLength="51" lengthAdjust="spacingAndGlyphs" stroke="#f6ffe8" stroke-width="0.22" stroke-linejoin="round" >EXITLERİ</text>
<text x="953.25" y="648" font-size="17.08" font-weight="bold" fill="#f6ffe8" textLength="41.75" lengthAdjust="spacingAndGlyphs" stroke="#f6ffe8" stroke-width="0.22" stroke-linejoin="round" >PANELİ</text>
<text x="1037" y="621.25" font-size="13.81" font-weight="bold" fill="#f6ffe8" textLength="30.5" lengthAdjust="spacingAndGlyphs" stroke="#f6ffe8" stroke-width="0.22" stroke-linejoin="round" >KAHVE</text>
<text x="1035" y="634.5" font-size="13.81" font-weight="bold" fill="#f6ffe8" textLength="34.25" lengthAdjust="spacingAndGlyphs" stroke="#f6ffe8" stroke-width="0.22" stroke-linejoin="round" >MOLASI</text>
<text x="1115.5" y="621.25" font-size="18.17" font-weight="bold" fill="#f6ffe8" textLength="133.25" lengthAdjust="spacingAndGlyphs" stroke="#f6ffe8" stroke-width="0.22" stroke-linejoin="round" >FİNALİST GİRİŞİMLER</text>
<text x="1145.75" y="639.25" font-size="18.17" font-weight="bold" fill="#f6ffe8" textLength="73.5" lengthAdjust="spacingAndGlyphs" stroke="#f6ffe8" stroke-width="0.22" stroke-linejoin="round" >SUNUMLARI</text>
<text x="1301.25" y="609.2" font-size="13.44" font-weight="bold" fill="#f6ffe8" textLength="23" lengthAdjust="spacingAndGlyphs" stroke="#f6ffe8" stroke-width="0.22" stroke-linejoin="round" >ÖDÜL</text>
<text x="1296.25" y="622.2" font-size="13.44" font-weight="bold" fill="#f6ffe8" textLength="32" lengthAdjust="spacingAndGlyphs" stroke="#f6ffe8" stroke-width="0.22" stroke-linejoin="round" >TÖRENİ</text>
<text x="1307.5" y="635.3" font-size="13.44" font-weight="bold" fill="#f6ffe8" textLength="10.5" lengthAdjust="spacingAndGlyphs" stroke="#f6ffe8" stroke-width="0.22" stroke-linejoin="round" >VE</text>
<text x="1293" y="648.5" font-size="13.44" font-weight="bold" fill="#f6ffe8" textLength="38.75" lengthAdjust="spacingAndGlyphs" stroke="#f6ffe8" stroke-width="0.22" stroke-linejoin="round" >KAPANIŞ</text>
<text x="760.75" y="677.5" font-size="16.72" font-weight="bold" fill="#f6ffe8" textLength="321.75" lengthAdjust="spacingAndGlyphs" stroke="#f6ffe8" stroke-width="0.22" stroke-linejoin="round" >SCADA GÜVENLİĞİ EĞİTİMİ / HACK İSTANBUL YARIŞMA ALANI</text>
<text x="563.25" y="702" font-size="7.27" font-weight="bold" fill="#f6ffe8" textLength="194.75" lengthAdjust="spacingAndGlyphs" stroke="#f6ffe8" stroke-width="0.05" stroke-linejoin="round" >HOW IP STRATEGIES RELEASE THE UNTAPPED VALUE OF IP/ IP STRATEJİLERİNİN;</text>
<text x="584.5" y="710" font-size="7.27" font-weight="bold" fill="#f6ffe8" textLength="152.25" lengthAdjust="spacingAndGlyphs" stroke="#f6ffe8" stroke-width="0.05" stroke-linejoin="round" >IP DEĞERİNE ETKİSİ / AVRUPA PATENT OFİSİ 226 NO’LU KÖRÜK</text>
<text x="663" y="728.25" font-size="6.25" font-weight="bold" fill="#f6ffe8" textLength="47" lengthAdjust="spacingAndGlyphs" stroke="#f6ffe8" stroke-width="0.05" stroke-linejoin="round" >UÇAN ARABA ŞEHİRİÇİ</text>
<text x="662.5" y="735" font-size="6.25" font-weight="bold" fill="#f6ffe8" textLength="48.25" lengthAdjust="spacingAndGlyphs" stroke="#f6ffe8" stroke-width="0.05" stroke-linejoin="round" >KULLANIMI SEMİNERİ /</text>
<text x="663" y="742" font-size="6.25" font-weight="bold" fill="#f6ffe8" textLength="47" lengthAdjust="spacingAndGlyphs" stroke="#f6ffe8" stroke-width="0.05" stroke-linejoin="round" >UÇAN ARABA TASARIM</text>
<text x="667.5" y="748.75" font-size="6.25" font-weight="bold" fill="#f6ffe8" textLength="38" lengthAdjust="spacingAndGlyphs" stroke="#f6ffe8" stroke-width="0.05" stroke-linejoin="round" >YARIŞMASI ÇADIRI</text>
<text x="929.25" y="709.5" font-size="13.81" font-weight="bold" fill="#f6ffe8" textLength="140.75" lengthAdjust="spacingAndGlyphs" stroke="#f6ffe8" stroke-width="0.22" stroke-linejoin="round" >PATENTİN DEĞERİNE ETKİ EDEN</text>
<text x="950.5" y="724.25" font-size="13.81" font-weight="bold" fill="#f6ffe8" textLength="98.25" lengthAdjust="spacingAndGlyphs" stroke="#f6ffe8" stroke-width="0.22" stroke-linejoin="round" >FAKTÖRLER SEMİNERİ</text>
<text x="928.75" y="739.25" font-size="13.81" font-weight="bold" fill="#f6ffe8" textLength="142" lengthAdjust="spacingAndGlyphs" stroke="#f6ffe8" stroke-width="0.22" stroke-linejoin="round" >TÜRKPATENT 226 NO’LU KÖRÜK</text>
<text x="122.5" y="783.75" font-size="31.61" font-weight="bold" fill="url(#gd1)" textLength="26.5" lengthAdjust="spacingAndGlyphs" stroke="url(#gd1)" stroke-width="1.2" stroke-linejoin="round" >17</text>
<rect x="151.6" y="761" width="1.3" height="23.5" fill="#c43232"/>
<text x="155.5" y="783.75" font-size="31.61" font-weight="bold" fill="url(#gd1)" textLength="33" lengthAdjust="spacingAndGlyphs" stroke="url(#gd1)" stroke-width="1.2" stroke-linejoin="round" >22</text>
<text x="194" y="783.75" font-size="31.61" font-weight="bold" fill="url(#gd1)" textLength="94" lengthAdjust="spacingAndGlyphs" stroke="url(#gd1)" stroke-width="1.2" stroke-linejoin="round" >EYLÜL</text>
<text x="292" y="783.75" font-size="31.61" font-weight="normal" fill="url(#gd2)" textLength="58" lengthAdjust="spacingAndGlyphs" >2019</text>
<text x="124" y="798" font-size="12.35" font-weight="bold" fill="url(#gd3)" textLength="226.5" lengthAdjust="spacing" stroke="url(#gd3)" stroke-width="0.45" stroke-linejoin="round" >ATATÜRK HAVALİMANI</text>
<text x="122.6" y="845.6" font-size="14.2" fill="#1d70b0" textLength="244" lengthAdjust="spacing">teknofestistanbul.org</text>
<text x="467.2" y="845.6" font-size="14.2" fill="#1d70b0" textLength="128.2" lengthAdjust="spacing">teknofestist</text>
<circle cx="400.6" cy="840.6" r="9" fill="none" stroke="#1d70b0" stroke-width="0.8"/>
<circle cx="424.3" cy="840.6" r="9" fill="none" stroke="#1d70b0" stroke-width="0.8"/>
<circle cx="447.7" cy="840.6" r="9" fill="none" stroke="#1d70b0" stroke-width="0.8"/>
<path transform="translate(400.6 840.6) scale(0.5)" fill="#1d70b0" d="M9.5 -6.2c-.7 .3 -1.4 .5 -2.2 .6c.8 -.5 1.4 -1.2 1.7 -2.1c-.7 .4 -1.6 .8 -2.4 .9a3.8 3.8 0 0 0 -6.6 3.5c-3.200 -.2 -6 -1.7 -7.900 -4a3.800 3.800 0 0 0 1.200 5.100c-.6 0 -1.200 -.2 -1.700 -.5c0 1.900 1.300 3.500 3.100 3.800c-.6 .2 -1.200 .2 -1.700 .1c.5 1.500 1.900 2.600 3.600 2.700a7.700 7.700 0 0 1 -5.700 1.600a10.900 10.900 0 0 0 16.800 -9.700c.7 -.5 1.400 -1.200 1.900 -2z"/>
<g transform="translate(424.3 840.6)" fill="none" stroke="#1d70b0" stroke-width="1.1"><rect x="-4.6" y="-4.6" width="9.2" height="9.2" rx="2.4"/><circle r="2.2"/></g><circle cx="427" cy="837.9" r="0.7" fill="#1d70b0"/>
<text x="447.9" y="845.6" font-size="14" font-weight="bold" text-anchor="middle" fill="#1d70b0">f</text>
<g id="logo">
<g fill="#fbfbfb" stroke="#fbfbfb" stroke-width="9.5" stroke-linejoin="round" stroke-linecap="round">
<circle cx="1443.5" cy="784.4" r="43.4"/>
<path d="M1362.5 773.5 L1392 776.5 L1428 783 L1431 809 L1414 815 L1398 809.5 L1386 800 L1375 788.5 Z"/><path d="M 1524.5 773.5 L 1495 776.5 L 1459 783 L 1456 809 L 1473 815 L 1489 809.5 L 1501 800 L 1512 788.5 Z"/>
<path d="M1378 830 L1440 812 L1516 799 L1515 818 L1502 836 L1397 860 L1380 850 Z"/>
<path d="M1420 790 L1467 790 L1467 815 L1420 820 Z"/>
</g>
<clipPath id="lgm"><rect x="1395" y="735" width="97" height="46"/></clipPath>
<g clip-path="url(#lgm)"><circle cx="1443.5" cy="784.4" r="42.6" fill="#f6f4f3" stroke="#d4402c" stroke-width="2.3"/>
<g fill="#d8503c">
<ellipse cx="1411.5" cy="772" rx="1.6" ry="2.6"/>
<ellipse cx="1428" cy="756" rx="2.3" ry="1.2"/>
<ellipse cx="1470" cy="767" rx="2.6" ry="1.7"/>
<ellipse cx="1447.5" cy="748" rx="1.3" ry="1.3"/>
<ellipse cx="1462" cy="757.5" rx="1.5" ry="0.7"/>
<ellipse cx="1417" cy="764" rx="0.9" ry="0.9"/>
<ellipse cx="1478" cy="770" rx="0.9" ry="0.9"/>
<ellipse cx="1433" cy="765" rx="1.3" ry="0.5"/>
<ellipse cx="1424" cy="748" rx="0.9" ry="0.7"/>
<ellipse cx="1467" cy="747.5" rx="1.1" ry="0.9"/>
</g>
<path d="M1402 767 q4 -12 11 -17 M1460 743 q9 2 13 8" fill="none" stroke="#d4402c" stroke-width="2.6" stroke-linecap="round"/>
</g>
<path d="M1362.5 773.5 L1392 776.5 L1428 783 L1431 809 L1414 815 L1398 809.5 L1386 800 L1375 788.5 Z" fill="#f7f9fb"/>
<path d="M 1524.5 773.5 L 1495 776.5 L 1459 783 L 1456 809 L 1473 815 L 1489 809.5 L 1501 800 L 1512 788.5 Z" fill="#f7f9fb"/>
<path d="M1363 774 L1428 783.2" stroke="#2a8fd0" stroke-width="1.6" fill="none"/>
<path d="M1366 776.5 L1428 785.6" stroke="#173f78" stroke-width="2.3" fill="none"/>
<path d="M1374.5 785 L1427 790.8" stroke="#2a8fd0" stroke-width="1.5" fill="none"/>
<path d="M1377 787.8 L1427 793.2" stroke="#173f78" stroke-width="2.3" fill="none"/>
<path d="M1384.5 795.5 L1427 798.8" stroke="#2a8fd0" stroke-width="1.5" fill="none"/>
<path d="M1387 798.2 L1427 801.3" stroke="#173f78" stroke-width="2.3" fill="none"/>
<path d="M1395.5 805 L1428 806.2" stroke="#2a8fd0" stroke-width="1.4" fill="none"/>
<path d="M1398 807.6 L1428 808.7" stroke="#173f78" stroke-width="2.3" fill="none"/>
<path d="M1362.5 773.5 L1375 788.5 L1386 800 L1398 809.5 L1414 815" stroke="#1c5fa5" stroke-width="1.3" fill="none" stroke-linejoin="round"/>
<path d="M1524 774 L1459 783.2" stroke="#2a8fd0" stroke-width="1.6" fill="none"/>
<path d="M1521 776.5 L1459 785.6" stroke="#173f78" stroke-width="2.3" fill="none"/>
<path d="M1512.5 785 L1460 790.8" stroke="#2a8fd0" stroke-width="1.5" fill="none"/>
<path d="M1510 787.8 L1460 793.2" stroke="#173f78" stroke-width="2.3" fill="none"/>
<path d="M1502.5 795.5 L1460 798.8" stroke="#2a8fd0" stroke-width="1.5" fill="none"/>
<path d="M1500 798.2 L1460 801.3" stroke="#173f78" stroke-width="2.3" fill="none"/>
<path d="M1491.5 805 L1459 806.2" stroke="#2a8fd0" stroke-width="1.4" fill="none"/>
<path d="M1489 807.6 L1459 808.7" stroke="#173f78" stroke-width="2.3" fill="none"/>
<path d="M1524.5 773.5 L1512 788.5 L1501 800 L1489 809.5 L1473 815" stroke="#1c5fa5" stroke-width="1.3" fill="none" stroke-linejoin="round"/>
<linearGradient id="lgr" gradientUnits="userSpaceOnUse" x1="1431" y1="0" x2="1456" y2="0"><stop offset="0" stop-color="#2f8fd0"/><stop offset="0.5" stop-color="#1f6fb5"/><stop offset="1" stop-color="#174f90"/></linearGradient>
<path d="M1433.5 782 C1428 786 1426 793 1427.5 806 C1430 801 1433 798.5 1437 798 Z" fill="#1d62a8" stroke="#f7f9fb" stroke-width="1.2"/><path d="M1453.5 782 C1459 786 1461 793 1459.5 806 C1457 801 1454 798.5 1450 798 Z" fill="#1d62a8" stroke="#f7f9fb" stroke-width="1.2"/>
<ellipse cx="1443.5" cy="808" rx="3.1" ry="5.2" fill="#f08a1c"/><ellipse cx="1443.5" cy="809.5" rx="1.6" ry="3" fill="#fbd03a"/>
<path d="M1443.5 752 C1451 757 1455.5 766 1455.2 777 C1455 786 1452.5 794 1450 801 L1437 801 C1434.500 794 1432 786 1431.800 777 C1431.500 766 1436 757 1443.5 752 Z" fill="url(#lgr)" stroke="#f7f9fb" stroke-width="1"/>
<circle cx="1443.8" cy="774" r="5.2" fill="#e9eef3" stroke="#174f90" stroke-width="0.8"/>
<path d="M1440.5 776.5 l5 -5.500 M1442.5 777.5 l5 -5.500 M1439.500 774 l4 -4.200" stroke="#1d62a8" stroke-width="0.9" fill="none"/>
<path d="M1437.5 801 h12 l-1 3 h-10 Z" fill="#174f90"/>
<linearGradient id="lgt" gradientUnits="userSpaceOnUse" x1="0" y1="0" x2="150" y2="0"><stop offset="0" stop-color="#cf2a1c"/><stop offset="0.572" stop-color="#cf2a1c"/><stop offset="0.572" stop-color="#1b4f92"/><stop offset="1" stop-color="#18346f"/></linearGradient>
<filter id="lgf" filterUnits="userSpaceOnUse" x="-12" y="-44" width="176" height="64" color-interpolation-filters="sRGB"><feGaussianBlur in="SourceAlpha" stdDeviation="2.7" result="b0"/><feComponentTransfer in="b0" result="d0"><feFuncA type="linear" slope="30" intercept="-1.6"/></feComponentTransfer><feOffset in="d0" dx="1.6" dy="1.8" result="d"/><feFlood flood-color="#fbfbfb"/><feComposite in2="d" operator="in" result="stk"/><feOffset in="SourceGraphic" dx="0" dy="0" result="fat"/><feOffset in="fat" dx="3.6" dy="4" result="o8"/><feOffset in="fat" dx="3.15" dy="3.5" result="o7"/><feOffset in="fat" dx="2.7" dy="3" result="o6"/><feOffset in="fat" dx="2.25" dy="2.5" result="o5"/><feOffset in="fat" dx="1.8" dy="2" result="o4"/><feOffset in="fat" dx="1.35" dy="1.5" result="o3"/><feOffset in="fat" dx="0.9" dy="1" result="o2"/><feOffset in="fat" dx="0.45" dy="0.5" result="o1"/><feFlood flood-color="#ffffff"/><feComposite in2="fat" operator="in" result="face"/><feMerge><feMergeNode in="stk"/><feMergeNode in="o8"/><feMergeNode in="o7"/><feMergeNode in="o6"/><feMergeNode in="o5"/><feMergeNode in="o4"/><feMergeNode in="o3"/><feMergeNode in="o2"/><feMergeNode in="o1"/><feMergeNode in="face"/></feMerge></filter>
<g transform="translate(1372.5 849.8) rotate(-12.5) skewX(-9)" font-size="36" font-weight="bold" font-style="italic">
<text x="0" y="0" textLength="150" lengthAdjust="spacingAndGlyphs" fill="url(#lgt)" stroke="url(#lgt)" stroke-width="2.1" stroke-linejoin="round" filter="url(#lgf)">TEKNOFEST</text>
<ellipse cx="78.5" cy="-13" rx="4" ry="8" fill="#e0452c"/>
</g>
<ellipse cx="1443.5" cy="807.5" rx="2.8" ry="4.6" fill="#f08a1c"/><ellipse cx="1443.5" cy="808.8" rx="1.4" ry="2.6" fill="#fbd03a"/>
<text transform="translate(1393.3 860.8) rotate(-12.6)" x="0" y="0" font-size="5.7" font-weight="bold" font-style="italic" fill="#2a7cc2" stroke="#fbfbfb" stroke-width="8.5" stroke-linejoin="round" paint-order="stroke" textLength="114" lengthAdjust="spacingAndGlyphs">İSTANBUL HAVACILIK, UZAY VE TEKNOLOJİ FESTİVALİ</text>
</g>
</svg>
</body>
</html>
